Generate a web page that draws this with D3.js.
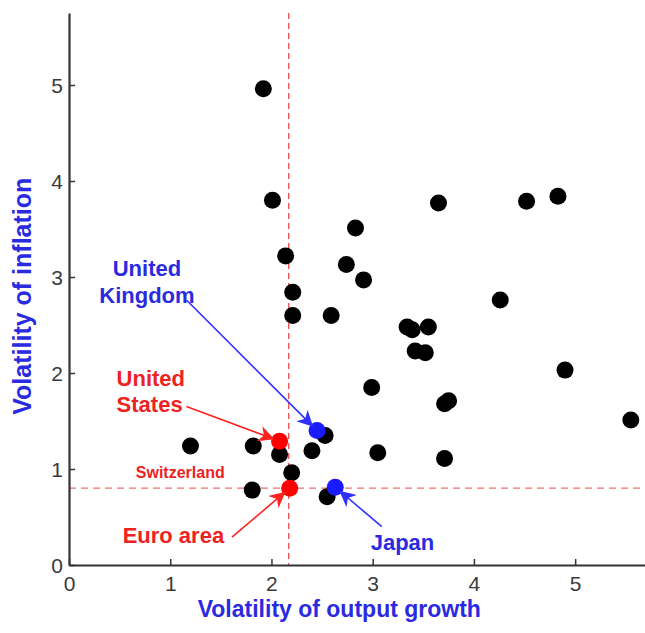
<!DOCTYPE html>
<html>
<head>
<meta charset="utf-8">
<script src="https://cdn.jsdelivr.net/npm/d3@7"></script>
<style>
  body { margin: 0; background: #fff; }
  svg { display: block; font-family: Arial, "Liberation Sans", sans-serif; }
</style>
</head>
<body>
<div id="chart"></div>
<script>
// other countries (volatility of output growth, volatility of inflation)
const otherX = [1.92, 2.01, 2.14, 2.21, 2.21, 2.59, 2.83, 2.74, 2.91, 3.65, 4.52, 4.83, 4.26,
  3.34, 3.39, 3.55, 3.42, 3.52, 2.99, 4.90, 3.71, 3.75, 5.55, 3.05, 3.71, 2.53, 2.55,
  1.20, 1.82, 2.08, 2.40, 2.20, 1.81];
const otherY = [4.96, 3.80, 3.22, 2.84, 2.60, 2.60, 3.51, 3.13, 2.97, 3.77, 3.79, 3.84, 2.76,
  2.48, 2.45, 2.48, 2.23, 2.21, 1.85, 2.03, 1.68, 1.71, 1.51, 1.17, 1.11, 1.35, 0.71,
  1.24, 1.24, 1.15, 1.19, 0.96, 0.78];

// highlighted economies
const keyNames = ["United States", "Euro area", "United Kingdom", "Japan"];
const keyX = [2.08, 2.18, 2.45, 2.63];
const keyY = [1.29, 0.80, 1.40, 0.81];
const keyColor = ["#ff0000", "#ff0000", "#1a1aff", "#1a1aff"];

// labels: text lines, anchor of text (data units), arrow start (data units)
const labelLines = [["United", "States"], ["Euro area"], ["United", "Kingdom"], ["Japan"]];
const labelX = [0.47, 0.53, 0.77, 2.98];
const labelY = [1.95, 0.31, 3.09, 0.24];
const labelAnchor = ["start", "start", "middle", "start"];
const arrowX = [1.16, 1.61, 1.16, 3.09];
const arrowY = [1.65, 0.29, 2.76, 0.40];

const refX = 2.17;   // vertical dashed line
const refY = 0.80;   // horizontal dashed line

const xTicks = [0, 1, 2, 3, 4, 5];
const yTicks = [0, 1, 2, 3, 4, 5];

const width = 645, height = 633;
const margin = { top: 13, right: 0, bottom: 68, left: 69 };

const x = d3.scaleLinear().domain([0, 5.69]).range([margin.left, width - margin.right]);
const y = d3.scaleLinear().domain([0, 5.75]).range([height - margin.bottom, margin.top]);

const svg = d3.select("#chart").append("svg")
    .attr("width", width)
    .attr("height", height);

const defs = svg.append("defs");
["#ff2020", "#3030ff"].forEach((c, i) => {
    defs.append("marker")
        .attr("id", "arrow" + i)
        .attr("viewBox", "0 0 10 10")
        .attr("refX", 9).attr("refY", 5)
        .attr("markerWidth", 16).attr("markerHeight", 16)
        .attr("markerUnits", "userSpaceOnUse")
        .attr("orient", "auto")
        .append("path")
        .attr("d", "M0,0 L10,5 L0,10 L3,5 Z")
        .attr("fill", c);
});

// dashed reference lines
svg.append("line")
    .attr("x1", x(refX)).attr("x2", x(refX))
    .attr("y1", y(5.75)).attr("y2", y(0))
    .attr("stroke", "#f05050").attr("stroke-width", 1.3)
    .attr("stroke-dasharray", "6,4");
svg.append("line")
    .attr("x1", x(0)).attr("x2", x(5.69))
    .attr("y1", y(refY)).attr("y2", y(refY))
    .attr("stroke", "#f07070").attr("stroke-width", 1.3)
    .attr("stroke-dasharray", "7,5");

// axes
const xAxis = svg.append("g")
    .attr("transform", `translate(0,${y(0)})`)
    .call(d3.axisBottom(x).tickValues(xTicks).tickFormat(d3.format("d"))
        .tickSizeInner(-6).tickSizeOuter(0).tickPadding(10));
const yAxis = svg.append("g")
    .attr("transform", `translate(${x(0)},0)`)
    .call(d3.axisLeft(y).tickValues(yTicks).tickFormat(d3.format("d"))
        .tickSizeInner(-6).tickSizeOuter(0).tickPadding(6));

[xAxis, yAxis].forEach(g => {
    g.select(".domain").attr("stroke", "#333").attr("stroke-width", 2.2);
    g.selectAll(".tick line").attr("stroke", "#333").attr("stroke-width", 1.5);
    g.selectAll(".tick text")
        .attr("fill", "#3a3a3a")
        .style("font-size", "21px")
        .style("font-family", "Arial, 'Liberation Sans', sans-serif");
});
yAxis.selectAll(".tick text").attr("dy", "0.36em");
xAxis.selectAll(".tick text").attr("dy", "0.75em");

// axis titles
svg.append("text")
    .attr("x", x(2.67)).attr("y", 617)
    .attr("text-anchor", "middle")
    .attr("fill", "#2a2ae0")
    .style("font-size", "23px").style("font-weight", "bold")
    .text("Volatility of output growth");
svg.append("text")
    .attr("transform", `translate(31,${y(2.8)}) rotate(-90)`)
    .attr("text-anchor", "middle")
    .attr("fill", "#2a2ae0")
    .style("font-size", "25px").style("font-weight", "bold")
    .text("Volatility of inflation");

// other countries
svg.append("g").selectAll("circle")
    .data(otherX)
    .join("circle")
    .attr("cx", d => x(d))
    .attr("cy", (d, i) => y(otherY[i]))
    .attr("r", 8.5)
    .attr("fill", "#000");

// highlighted
svg.append("g").selectAll("circle")
    .data(keyX)
    .join("circle")
    .attr("cx", d => x(d))
    .attr("cy", (d, i) => y(keyY[i]))
    .attr("r", 8.5)
    .attr("fill", (d, i) => keyColor[i]);

// labels and arrows
keyNames.forEach((name, i) => {
    const red = i < 2;
    const col = red ? "#ee2222" : "#2a2ae0";
    const x0 = x(arrowX[i]), y0 = y(arrowY[i]);
    const x1 = x(keyX[i]), y1 = y(keyY[i]);
    const len = Math.hypot(x1 - x0, y1 - y0);
    const k = (len - 7) / len;
    svg.append("line")
        .attr("x1", x0).attr("y1", y0)
        .attr("x2", x0 + (x1 - x0) * k).attr("y2", y0 + (y1 - y0) * k)
        .attr("stroke", red ? "#ff2020" : "#3030ff")
        .attr("stroke-width", 1.6)
        .attr("marker-end", `url(#arrow${red ? 0 : 1})`);

    const t = svg.append("text")
        .attr("x", x(labelX[i])).attr("y", y(labelY[i]))
        .attr("text-anchor", labelAnchor[i])
        .attr("fill", col)
        .style("font-size", "22px").style("font-weight", "bold");
    labelLines[i].forEach((line, j) => {
        t.append("tspan")
            .attr("x", x(labelX[i]))
            .attr("dy", j === 0 ? "0.36em" : "1.2em")
            .text(line);
    });
});

svg.append("text")
    .attr("x", x(0.66)).attr("y", y(0.97))
    .attr("dy", "0.36em")
    .attr("fill", "#ee2222")
    .style("font-size", "16px").style("font-weight", "bold")
    .text("Switzerland");
</script>
</body>
</html>
